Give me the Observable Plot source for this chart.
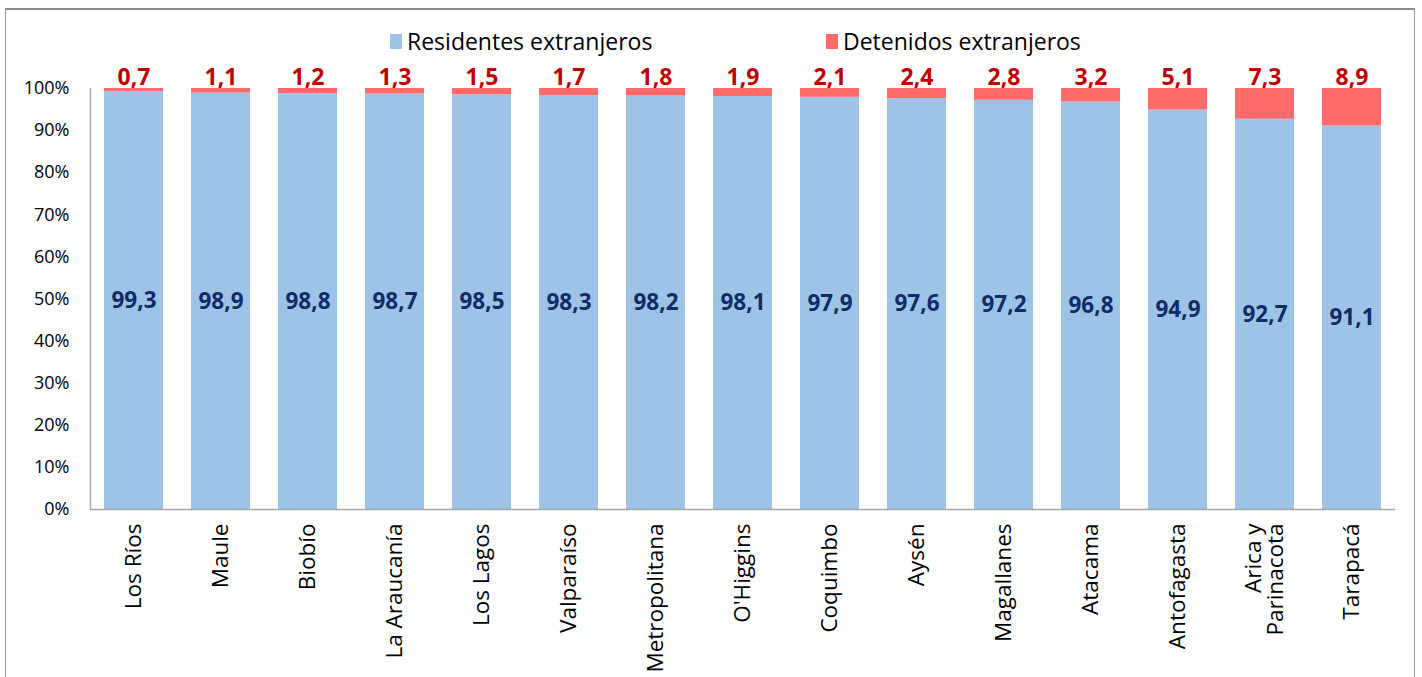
<!DOCTYPE html>
<html>
<head>
<meta charset="utf-8">
<script src="https://cdn.jsdelivr.net/npm/d3@7"></script>
<script src="https://cdn.jsdelivr.net/npm/@observablehq/plot@0.6"></script>
<style>
  html, body { margin: 0; padding: 0; background: #fff; }
  body { width: 1422px; height: 677px; overflow: hidden; position: relative; font-family: "Open Sans", sans-serif; }
  #frame { position: absolute; left: 5px; top: 8px; width: 1410px; height: 700px; border: 1px solid #9a9a9a; border-top: 2px solid #8c8c8c; box-sizing: border-box; }
  #legend { position: absolute; top: 26px; left: 0; width: 1422px; height: 30px; font-size: 23px; color: #000; z-index: 2; }
  .item { position: absolute; top: 0; display: flex; align-items: center; height: 30px; }
  .sw { width: 12px; height: 15px; margin-right: 5px; }
  #chart { position: absolute; top: 48px; left: 0; }
</style>
</head>
<body>
<div id="frame"></div>
<div id="chart"></div>
<div id="legend"></div>
<script>
const regions = ["Los Ríos","Maule","Biobío","La Araucanía","Los Lagos","Valparaíso","Metropolitana","O'Higgins","Coquimbo","Aysén","Magallanes","Atacama","Antofagasta","Arica y\nParinacota","Tarapacá"];
const residentes = [99.3,98.9,98.8,98.7,98.5,98.3,98.2,98.1,97.9,97.6,97.2,96.8,94.9,92.7,91.1];
const detenidos = [0.7,1.1,1.2,1.3,1.5,1.7,1.8,1.9,2.1,2.4,2.8,3.2,5.1,7.3,8.9];
const yTicks = [0,10,20,30,40,50,60,70,80,90,100];
const seriesNames = ["Residentes extranjeros","Detenidos extranjeros"];
const colors = ["#9DC3E6","#FF6B6B"];

const fmt = v => v.toFixed(1).replace(".", ",");
const rows = regions.map((r, i) => ({region: r, res: residentes[i], det: detenidos[i]}));

// Legend
const legend = document.getElementById("legend");
const legendX = [390, 826];
seriesNames.forEach((name, i) => {
  const it = document.createElement("div");
  it.className = "item";
  it.style.left = legendX[i] + "px";
  it.innerHTML = `<span class="sw" style="background:${colors[i]}"></span><span>${name}</span>`;
  legend.appendChild(it);
});

const chart = Plot.plot({
  width: 1422,
  height: 629,
  marginTop: 40,
  marginBottom: 168,
  marginLeft: 90,
  marginRight: 27,
  style: {fontFamily: "Open Sans, sans-serif", color: "#000", background: "transparent", overflow: "visible"},
  x: {domain: regions, paddingInner: 0.32, paddingOuter: 0.16, label: null},
  y: {domain: [0, 100], label: null},
  marks: [
    Plot.barY(rows, {x: "region", y1: 0, y2: "res", fill: colors[0]}),
    Plot.barY(rows, {x: "region", y1: "res", y2: d => d.res + d.det, fill: colors[1]}),
    Plot.ruleY([0], {stroke: "#a6a6a6", strokeWidth: 1.5}),
    Plot.frame({anchor: "left", stroke: "#a6a6a6", strokeWidth: 1.5}),
    Plot.axisY({ticks: yTicks, tickSize: 0, tickPadding: 21, tickFormat: d => d + "%", fontSize: 18, label: null}),
    Plot.axisX({tickSize: 0, tickPadding: 14, tickRotate: -90, fontSize: 22.5, label: null}),
    Plot.text(rows, {x: "region", y: d => d.res / 2, text: d => fmt(d.res), fill: "#0F2C68", fontWeight: "bold", fontSize: 22.5}),
    Plot.text(rows, {x: "region", y: d => d.res + d.det, text: d => fmt(d.det), fill: "#C00000", fontWeight: "bold", fontSize: 23, lineAnchor: "bottom", dy: -4})
  ]
});
document.getElementById("chart").appendChild(chart);
</script>
</body>
</html>
